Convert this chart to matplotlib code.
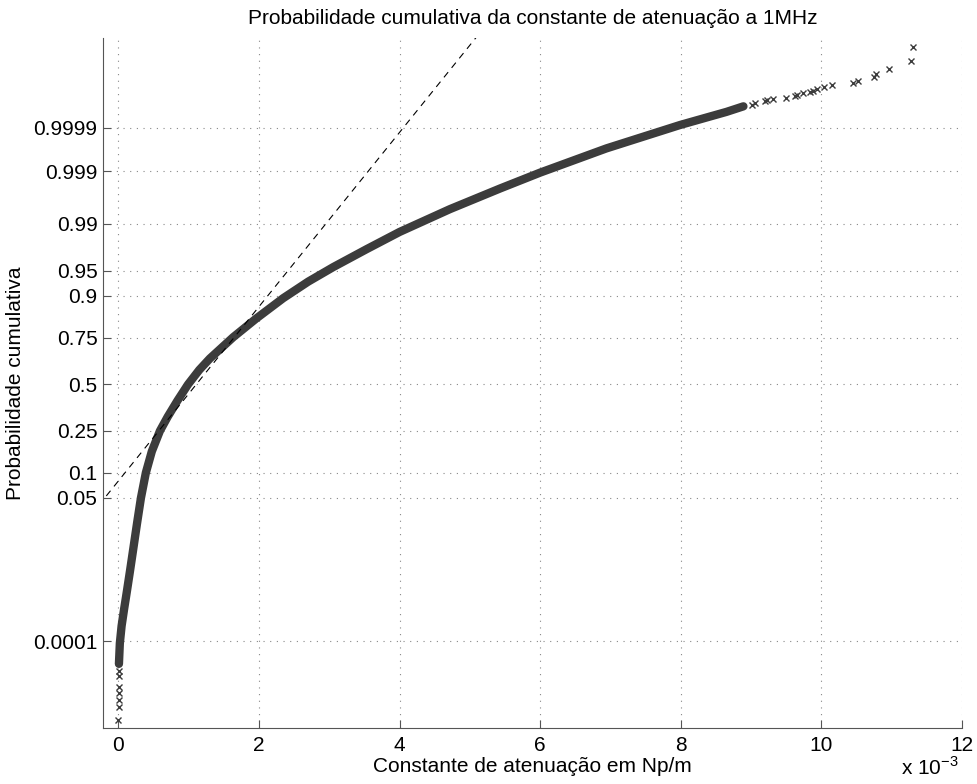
from statistics import NormalDist
import numpy as np
import matplotlib
matplotlib.use('Agg')
import matplotlib.pyplot as plt
from matplotlib.ticker import ScalarFormatter

plt.rcParams['font.family'] = ['Liberation Sans', 'DejaVu Sans']
plt.rcParams['mathtext.fontset'] = 'custom'
plt.rcParams['mathtext.rm'] = 'Liberation Sans'
plt.rcParams['font.size'] = 15

# attenuation constant (x 1e-3 Np/m) against normal score
body_x = [0.007, 0.02, 0.045, 0.08, 0.117, 0.165, 0.21, 0.265, 0.32, 0.39, 0.475,
          0.59, 0.70, 0.84, 0.99, 1.15, 1.30, 1.633, 1.96, 2.344, 2.7, 3.055,
          3.53, 4.0, 4.715, 5.43, 6.0, 6.94, 7.99, 8.65, 8.89]
body_z = [-4.05, -3.75, -3.50, -3.26, -3.02, -2.70, -2.39, -2.01, -1.645, -1.28, -0.97,
          -0.674, -0.47, -0.235, 0.0, 0.21, 0.375, 0.685, 0.955, 1.25, 1.49, 1.70,
          1.96, 2.21, 2.54, 2.84, 3.07, 3.42, 3.76, 3.95, 4.03]

# isolated samples in the upper tail
top_x = [9.007, 9.054, 9.196, 9.23, 9.314, 9.495, 9.623, 9.647, 9.741, 9.836, 9.883,
         9.94, 10.036, 10.153, 10.452, 10.523, 10.747, 10.77, 10.964, 11.269, 11.306]
top_z = [4.05, 4.075, 4.113, 4.123, 4.138, 4.157, 4.181, 4.196, 4.22, 4.243, 4.258,
         4.283, 4.312, 4.345, 4.374, 4.403, 4.452, 4.50, 4.577, 4.684, 4.896]

# isolated samples in the lower tail
low_x = [0.004, 0.003, 0.002, 0.002, 0.001, 0.001, 0.0]
low_z = [-4.15, -4.23, -4.38, -4.47, -4.57, -4.67, -4.86]

# quartiles used for the reference line
q25, q75 = 0.573, 1.641

prob_ticks = [0.0001, 0.05, 0.1, 0.25, 0.5, 0.75, 0.9, 0.95, 0.99, 0.999, 0.9999]
prob_labels = ['0.0001', '0.05', '0.1', '0.25', '0.5', '0.75', '0.9', '0.95',
               '0.99', '0.999', '0.9999']

nd = NormalDist()
e3 = 1e-3
col = '#3c3c3c'

fig = plt.figure(figsize=(9.77, 7.84), dpi=100)
ax = fig.add_axes([0.1054, 0.0714, 0.8793, 0.8801])

ax.plot(np.array(body_x) * e3, body_z, '-', color=col, lw=6.0,
        solid_capstyle='round', solid_joinstyle='round', zorder=3)
ax.plot(np.array(top_x) * e3, top_z, 'x', color=col, ms=5, mew=1.0, zorder=3)
ax.plot(np.array(low_x) * e3, low_z, 'x', color=col, ms=5, mew=1.0, zorder=3)

# reference line through the quartiles
zq = nd.inv_cdf(0.75)
slope = 2 * zq / ((q75 - q25) * e3)
mid = (q25 + q75) / 2 * e3
lx = np.array([-0.5e-3, 12e-3])
ax.plot(lx, (lx - mid) * slope, '--', color='k', lw=0.8, dashes=(6, 5), zorder=4)

ax.set_xlim(-0.22e-3, 12e-3)
ax.set_ylim(-4.98, 5.02)
ax.set_xticks(np.arange(0, 13, 2) * e3)
ax.set_yticks([nd.inv_cdf(p) for p in prob_ticks])
ax.set_yticklabels(prob_labels)

fmt = ScalarFormatter()
fmt.set_powerlimits((-3, -3))
ax.xaxis.set_major_formatter(fmt)
ax.xaxis.get_offset_text().set_visible(False)
fig.text(0.981, 0.006, 'x 10$^{-3}$', ha='right', va='bottom', fontsize=15)

for s in ['top', 'right']:
    ax.spines[s].set_visible(False)
for s in ['left', 'bottom']:
    ax.spines[s].set_color('#555555')
ax.tick_params(direction='in', length=6, width=0.8, color='#555555', labelsize=15)
ax.tick_params(axis='y', pad=4)
ax.tick_params(axis='x', pad=6)

ax.grid(True, color='#888888', lw=0.8, linestyle=(0, (1, 5)))

ax.set_title('Probabilidade cumulativa da constante de atenuação a 1MHz',
             fontsize=15, pad=10)
ax.set_xlabel('Constante de atenuação em Np/m', fontsize=15, labelpad=1)
ax.set_ylabel('Probabilidade cumulativa', fontsize=15, labelpad=6)

plt.savefig('out.png', dpi=100)
